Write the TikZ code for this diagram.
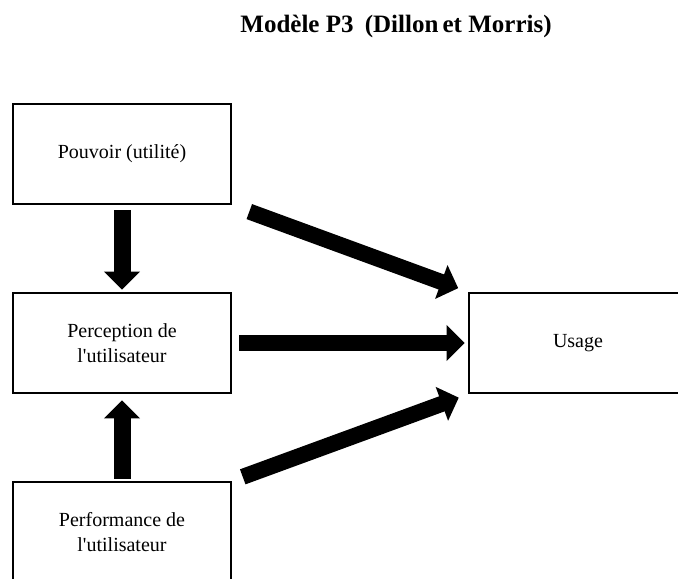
\documentclass[tikz,border=0pt]{standalone}
\usepackage{fontspec}
\setmainfont{Liberation Serif}
\usetikzlibrary{arrows.meta,chains,positioning}

\begin{document}
\begin{tikzpicture}[%
    start chain=going below,     % Left column runs top-to-bottom
    node distance=94.5pt and 228pt, % Global setup of box spacing
    ]
% -------------------------------------------------
% Box and arrow styles
\tikzset{
  base/.style={draw, on grid, align=center, line width=1.4pt,
    font=\fontsize{10}{12.5}\selectfont},
  box/.style={base, rectangle, minimum width=109pt, minimum height=50pt},
  % Thick block arrows between the boxes
  fat/.style={draw, line width=8pt, -{Triangle[length=9pt,width=17.5pt]}},
  titre/.style={font=\fontsize{12.5}{15}\selectfont\bfseries}
}
\useasboundingbox (0,0) rectangle (339pt,-289pt);
% -------------------------------------------------
% Title
\node [titre] (titre) at (198pt,-13pt) {Mod\`ele P3\hspace{0.45em}(Dillon\,et Morris)};
% Left column on the chain
\node [box, on chain] (pouvoir) at (61pt,-77pt) {Pouvoir (utilit\'e)};
\node [box, on chain] (perception) {Perception de\\l\textquotesingle utilisateur};
\node [box, on chain] (performance) {Performance de\\l\textquotesingle utilisateur};
% Target box
\node [box, right=of perception] (usage) {Usage};
% -------------------------------------------------
% Arrows
\draw [fat, line width=8.5pt, shorten <=2.5pt, shorten >=1pt] (pouvoir) -- (perception);
\draw [fat, line width=8.5pt, shorten <=1pt, shorten >=3pt] (performance) -- (perception);
\draw [fat, shorten <=3.5pt, shorten >=1.5pt] (perception) -- (usage);
\draw [fat, shorten <=9pt, shorten >=5pt] (pouvoir.south east) -- (usage.north west);
\draw [fat, shorten <=5.5pt, shorten >=4.7pt] (performance.north east) -- (usage.south west);
% -------------------------------------------------
\end{tikzpicture}
\end{document}
